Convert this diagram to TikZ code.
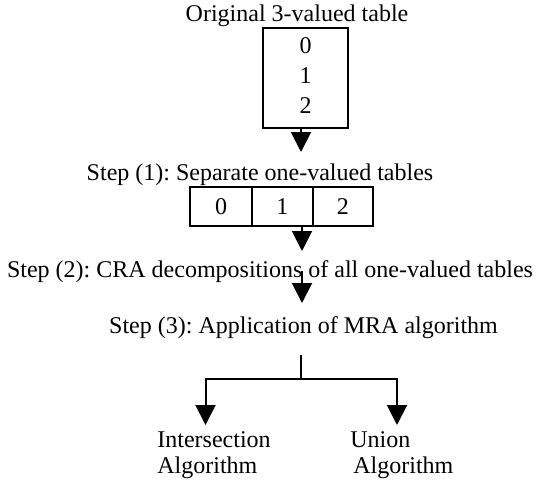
\documentclass[tikz,border=0pt]{standalone}
\usepackage{fontspec}
\setmainfont{Liberation Serif}
\usetikzlibrary{arrows.meta}
\begin{document}
\frenchspacing
\begin{tikzpicture}[x=0.5pt,y=-0.5pt,
  lbl/.style={anchor=base,inner sep=0pt,font=\fontsize{12pt}{13.3pt}\selectfont},
  frame/.style={draw,line width=1pt,inner sep=0pt,font=\fontsize{12pt}{13.3pt}\selectfont},
  conn/.style={line width=1pt},
  arr/.style={line width=1pt,-{Triangle[width=10pt,length=10pt]}}]
\useasboundingbox (0,0) rectangle (546,483);
% title and original table
\node[lbl] (title) at (297,21) {Original 3-valued table};
\node[frame,minimum width=42.8pt,minimum height=50.2pt] (orig) at (305.5,78.2) {};
\node[lbl] (d0) at (305.5,53) {0};
\node[lbl] (d1) at (305.5,83) {1};
\node[lbl] (d2) at (305.5,113) {2};
\coordinate (t1) at (301,152);
\draw[arr] (orig.south -| t1) -- (t1);
% step 1
\node[lbl] (s1) at (260,180) {Step (1): Separate one-valued tables};
\node[frame,minimum width=31pt,minimum height=19.25pt] (c0) at (221,206.7) {0};
\node[frame,minimum width=30.35pt,minimum height=19.25pt] (c1) at (282.35,206.7) {1};
\node[frame,minimum width=30.15pt,minimum height=19.25pt] (c2) at (342.85,206.7) {2};
\coordinate (t2) at (302,251);
\draw[arr] (c1.south -| t2) -- (t2);
% step 2
\node[lbl] (s2) at (270,277) {Step (2): CRA decompositions of all one-valued tables};
\coordinate (t3) at (302,303);
\draw[arr] (s2.center -| t3) -- (t3);
% step 3
\node[lbl] (s3) at (303.5,333) {Step (3): Application of MRA algorithm};
\coordinate (br) at (301,355);
\coordinate (j) at (301,379);
\coordinate (tL) at (205.5,425);
\coordinate (tR) at (397,425);
\draw[conn] (br) -- (j);
\draw[arr] (j) -| (tL);
\draw[arr] (j) -| (tR);
% results
\node[lbl,anchor=base west,align=left,font=\fontsize{12pt}{13.2pt}\selectfont] (inter) at (157,473.4) {Intersection\\Algorithm};
\node[lbl,anchor=base west,align=left,font=\fontsize{12pt}{13.2pt}\selectfont] (union) at (350,473.4) {Union\\\hspace*{1.5pt}Algorithm};
\end{tikzpicture}
\end{document}
